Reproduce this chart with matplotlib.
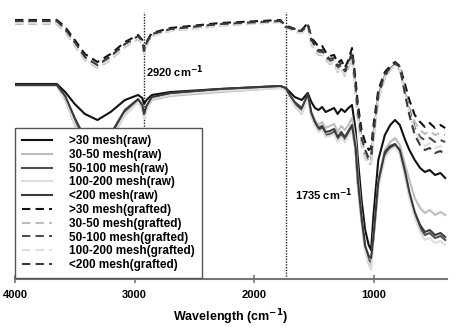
import numpy as np
import matplotlib
matplotlib.use('Agg')
from matplotlib import pyplot as plt

plt.rcParams['font.family'] = ['Liberation Sans', 'DejaVu Sans']
plt.rcParams['mathtext.default'] = 'bf'

# wavenumber grid (cm-1)
wn = [4000, 3650, 3580, 3500, 3415, 3310, 3200, 3080, 2970, 2935, 2920, 2900, 2855, 2700,
      2285, 1780, 1735, 1700, 1660, 1600, 1550, 1520, 1490, 1460, 1430, 1400, 1365, 1330,
      1300, 1270, 1240, 1210, 1180, 1150, 1130, 1100, 1070, 1040, 1020, 1000, 960, 905,
      860, 820, 780, 735, 700, 655, 610, 570, 530, 485, 440, 400]

# spectra, arbitrary offset units (larger = lower on the plot)
raw_30 = [84, 84, 92, 104, 114, 120, 112, 100, 95, 98, 104, 100, 95, 92, 89, 86, 88, 92, 97, 100,
          93, 102, 108, 110, 107, 112, 110, 108, 114, 109, 112, 108, 105, 130, 160, 200, 230, 245,
          250, 215, 160, 135, 125, 120, 125, 140, 150, 160, 168, 172, 170, 175, 173, 178]
raw_30_50 = [86, 86, 100, 125, 145, 152, 140, 115, 102, 108, 118, 110, 100, 96, 92, 88, 90, 97, 106,
             114, 96, 112, 120, 125, 122, 128, 126, 124, 132, 126, 130, 125, 118, 140, 175, 215, 245,
             262, 268, 235, 180, 150, 142, 138, 145, 165, 180, 198, 208, 213, 210, 215, 212, 215]
raw_50_100 = [85, 85, 98, 122, 142, 150, 138, 112, 100, 106, 116, 108, 98, 94, 90, 87, 89, 96, 104,
              110, 95, 115, 125, 130, 128, 135, 134, 132, 140, 135, 140, 134, 128, 150, 185, 220, 248,
              260, 262, 238, 185, 155, 148, 145, 152, 175, 195, 215, 228, 235, 233, 238, 236, 240]
raw_100_200 = [86, 86, 99, 124, 144, 152, 140, 114, 102, 108, 118, 110, 99, 95, 91, 88, 90, 97, 106,
               113, 97, 116, 126, 132, 130, 137, 136, 134, 142, 137, 142, 136, 130, 152, 188, 224, 252,
               265, 270, 240, 188, 158, 150, 147, 154, 178, 198, 218, 232, 240, 238, 243, 241, 245]
raw_200 = [85, 85, 96, 118, 138, 146, 134, 110, 99, 105, 114, 106, 97, 93, 89, 86, 88, 95, 102, 108,
           94, 113, 122, 128, 126, 132, 131, 129, 137, 132, 137, 131, 125, 148, 182, 218, 246, 256,
           258, 236, 182, 152, 146, 144, 150, 172, 192, 212, 225, 232, 230, 235, 233, 237]

gr_30 = [20, 20, 27, 40, 54, 62, 54, 42, 35, 40, 50, 42, 33, 28, 23, 20, 26, 27, 29, 30, 23, 38, 42,
         47, 46, 52, 56, 55, 63, 60, 68, 60, 48, 80, 105, 130, 142, 150, 148, 125, 90, 72, 66, 62,
         66, 85, 100, 115, 122, 127, 123, 128, 125, 128]
gr_30_50 = [24, 24, 32, 46, 60, 68, 60, 47, 39, 44, 54, 46, 36, 31, 26, 22, 28, 29, 32, 33, 27, 45,
            50, 55, 55, 60, 64, 63, 72, 68, 76, 68, 58, 95, 120, 145, 158, 165, 163, 140, 100, 78,
            70, 66, 70, 92, 108, 122, 130, 134, 131, 135, 133, 135]
gr_50_100 = [22, 22, 30, 43, 58, 66, 57, 45, 37, 42, 52, 44, 35, 30, 25, 21, 27, 28, 31, 32, 25, 42,
             47, 52, 52, 57, 61, 60, 68, 65, 73, 65, 55, 90, 115, 140, 155, 162, 160, 135, 96, 76,
             69, 64, 68, 92, 110, 128, 137, 140, 138, 142, 140, 142]
gr_100_200 = [23, 23, 31, 45, 59, 67, 59, 46, 38, 43, 53, 45, 36, 31, 26, 22, 28, 29, 32, 33, 27, 44,
              49, 54, 54, 59, 63, 62, 71, 67, 75, 67, 57, 93, 118, 143, 157, 164, 162, 138, 99, 77,
              70, 65, 69, 94, 112, 130, 140, 146, 143, 148, 146, 150]
gr_200 = [21, 21, 29, 42, 57, 65, 56, 44, 36, 41, 51, 43, 34, 29, 24, 21, 27, 28, 30, 31, 24, 40, 45,
          50, 50, 55, 59, 58, 66, 63, 71, 63, 52, 86, 112, 138, 150, 158, 156, 132, 94, 74, 68, 63,
          67, 95, 115, 135, 145, 150, 148, 153, 151, 155]

labels = ['>30 mesh(raw)', '30-50 mesh(raw)', '50-100 mesh(raw)', '100-200 mesh(raw)', '<200 mesh(raw)',
          '>30 mesh(grafted)', '30-50 mesh(grafted)', '50-100 mesh(grafted)', '100-200 mesh(grafted)',
          '<200 mesh(grafted)']
series = [raw_30, raw_30_50, raw_50_100, raw_100_200, raw_200,
          gr_30, gr_30_50, gr_50_100, gr_100_200, gr_200]
colors = ['#111111', '#bdbdbd', '#505050', '#dedede', '#3a3a3a'] * 2
styles = ['-'] * 5 + ['--'] * 5

marks = [2920, 1735]

fig = plt.figure(figsize=(4.59, 3.33), dpi=100)
ax = fig.add_axes([15 / 459, 54 / 333, 432 / 459, 279 / 333])

for vals, lab, c, ls in zip(series, labels, colors, styles):
    if ls == '--':
        ax.plot(wn, vals, color=c, lw=1.5, ls=ls, dashes=(4, 2.5), label=lab)
    else:
        ax.plot(wn, vals, color=c, lw=1.5, ls=ls, label=lab)

for m in marks:
    ax.axvline(m, ymin=0, ymax=0.957, color='#222222', lw=1.0, ls=(0, (1, 1)), zorder=1)

ax.text(2900, 72, '2920 cm$^{-1}$', fontsize=8, fontweight='bold', va='center', ha='left')
ax.text(1660, 195, '1735 cm$^{-1}$', fontsize=8, fontweight='bold', va='center', ha='left')

ax.set_xlim(4000, 385)
ax.set_ylim(279, 0)
ax.set_yticks([])
for s in ['top', 'right', 'left']:
    ax.spines[s].set_visible(False)
ax.spines['bottom'].set_color('#777777')
ax.spines['bottom'].set_linewidth(1.5)
ax.set_xticks([4000, 3000, 2000, 1000])
ax.tick_params(axis='x', direction='inout', length=6, width=1.2, color='#777777',
               labelsize=8, pad=5)
for t in ax.get_xticklabels():
    t.set_fontweight('bold')
ax.set_xlabel('Wavelength (cm$^{-1}$)', fontsize=9, fontweight='bold', labelpad=5)

leg = ax.legend(loc='lower left', bbox_to_anchor=(0, 0.003), borderaxespad=0, fancybox=False,
                framealpha=1, edgecolor='#555555', handlelength=2.5,
                labelspacing=0.15, borderpad=0.6, handletextpad=1.5,
                prop={'weight': 'bold', 'size': 8.5})
leg.get_frame().set_linewidth(1.0)
leg.set_zorder(5)

fig.savefig('out.png', dpi=100)
